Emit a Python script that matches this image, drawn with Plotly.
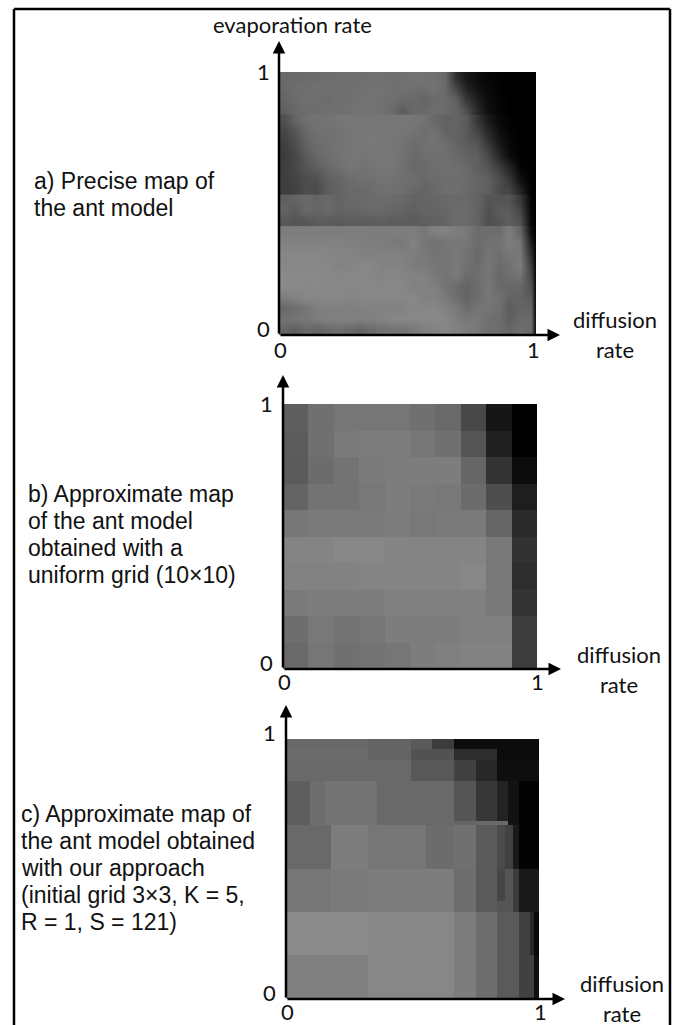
import plotly.graph_objects as go

W, H = 680, 1025

# Panel a: precise map, grey levels, top row first
grid_a = [
    [105,105,108,108,110,110,112,112,112,112,112,112,115,115,112,105,45,22,12,5,3,0,0,0],
    [105,110,110,112,112,112,110,112,115,115,112,112,112,110,115,105,70,35,18,8,3,0,0,0],
    [100,108,112,110,108,112,112,115,115,112,112,108,105,100,108,108,95,55,30,12,4,0,0,0],
    [95,105,108,110,112,112,112,115,115,112,108,92,105,105,110,108,100,80,40,15,5,0,0,0],
    [80,100,112,115,115,118,118,118,118,118,118,118,118,115,105,98,100,90,55,25,8,2,0,0],
    [70,85,105,112,112,115,118,118,120,118,118,118,115,110,115,100,98,90,70,40,15,4,0,0],
    [62,78,100,108,112,115,118,118,120,118,118,115,108,112,115,110,100,92,85,55,25,8,0,0],
    [60,72,90,105,110,115,118,118,118,120,118,115,105,110,112,112,105,100,95,72,40,12,0,0],
    [62,72,85,95,105,112,118,115,115,118,118,112,105,105,112,112,110,105,95,85,60,35,4,0],
    [62,68,78,80,95,100,108,112,112,115,115,112,110,105,108,110,110,108,102,95,78,55,15,0],
    [62,65,78,75,92,100,105,105,108,112,112,110,105,100,105,110,110,105,100,95,75,70,35,0],
    [95,100,105,100,105,100,105,105,108,108,108,105,100,100,102,105,105,105,100,85,85,85,55,2],
    [100,92,105,100,105,100,102,102,105,105,102,100,95,100,100,102,108,108,100,80,92,90,70,4],
    [88,85,85,92,92,90,92,92,92,95,92,95,92,95,98,100,108,105,100,78,85,95,82,8],
    [125,125,125,125,125,125,125,125,125,125,125,125,125,118,130,130,125,122,108,110,108,125,100,12],
    [130,130,130,130,130,130,128,128,125,125,122,120,130,118,112,118,120,118,108,114,115,125,118,30],
    [135,135,135,135,133,132,132,130,128,130,130,128,125,122,115,116,122,115,105,116,110,120,118,45],
    [135,135,135,135,135,130,132,135,135,130,130,130,125,122,118,116,122,112,108,118,108,112,125,60],
    [138,138,138,138,135,135,135,135,135,132,135,132,130,130,122,115,122,108,110,118,104,112,115,70],
    [138,138,135,138,135,135,135,135,135,135,135,135,130,130,128,116,108,100,108,118,106,104,104,80],
    [125,130,135,135,135,135,132,135,135,135,135,135,135,130,130,122,110,100,110,120,112,100,100,90],
    [105,110,118,125,128,128,128,128,130,130,130,130,135,135,135,130,122,110,116,116,112,92,102,100],
    [115,118,118,125,128,128,130,128,128,130,135,135,135,135,135,135,125,120,120,112,108,96,106,105],
    [100,95,105,100,105,110,105,100,108,112,115,115,120,128,130,135,130,125,120,110,110,102,110,105],
]
# Grey level along the right border of panel a
right_edge_a = 0
# Horizontal bands of panel a: top value, bottom value, number of rows
bands_a = [(1.0, 0.834, 4), (0.838, 0.530, 7), (0.534, 0.410, 3), (0.414, 0.0, 10)]

# Panel b: uniform 10x10 grid, grey levels, top row first
grid_b = [
    [95,112,118,118,118,112,105,72,22,0],
    [92,112,122,125,125,118,112,85,32,0],
    [90,108,115,122,125,125,125,102,52,12],
    [100,115,115,120,125,122,120,108,78,30],
    [118,122,122,122,125,120,122,122,102,42],
    [132,132,135,135,132,132,132,132,120,50],
    [130,130,130,132,132,132,132,135,120,45],
    [122,125,125,125,128,128,128,128,120,52],
    [110,120,115,118,125,125,125,128,128,60],
    [105,118,112,115,118,125,128,130,130,60],
]

# Panel c: adaptive grid cell edges and grey levels, top row first
edges_x_c = [0,.096,.154,.178,.325,.361,.495,.555,.579,.649,.665,.752,.835,.867,.876,.896,.92,.963,.982,1]
edges_y_c = [1,.963,.92,.837,.683,.67,.5,.377,.334,.168,0]
grid_c = [
    [105,105,105,105,100,100,90,90,60,60,12,12,12,12,12,12,12,12,12],
    [108,108,108,108,100,100,82,82,82,82,45,45,12,12,12,12,12,12,12],
    [105,105,105,105,105,105,88,88,88,88,65,40,14,14,14,14,14,14,14],
    [95,110,115,115,115,105,105,105,105,105,85,55,35,35,18,18,3,3,3],
    [95,110,115,115,115,105,105,105,105,105,100,105,105,105,18,18,3,3,3],
    [105,105,105,125,118,118,118,108,108,108,112,90,75,65,65,25,3,3,3],
    [118,118,118,122,125,125,125,125,125,125,110,90,70,85,85,60,25,25,25],
    [118,118,118,122,125,125,125,125,125,125,110,90,85,85,85,60,25,25,25],
    [140,140,140,140,135,135,135,135,135,135,125,110,90,90,90,90,65,40,10],
    [128,128,128,128,135,135,135,135,135,135,125,110,90,90,90,90,65,65,15],
]

tick_labels = ["0", "1"]
x_title = ["diffusion", "rate"]
y_title = "evaporation rate"
panel_texts = [
    ["a) Precise map of", "the ant model"],
    ["b) Approximate map", "of the ant model", "obtained with a", "uniform grid (10×10)"],
    ["c) Approximate map of", "the ant model obtained", "with our approach", "(initial grid 3×3, K = 5,", "R = 1, S = 121)"],
]

# heat area of each panel in page pixels: left, right, top, bottom
boxes = [(279, 536, 72, 335), (283, 537, 404, 669), (286, 539, 739, 999)]


def px(x):
    return x / W


def py(y):
    return 1 - y / H


def centres(n):
    return [(i + 0.5) / n for i in range(n)]


GREY = [[0, "rgb(0,0,0)"], [1, "rgb(255,255,255)"]]
LABEL_FONT = dict(family="Lato", size=22, color="#111")
TEXT_FONT = dict(family="Liberation Sans", size=23, color="#111")

fig = go.Figure()
row = 0
for hi, lo, n in bands_a:
    rows = grid_a[row:row + n]
    row += n
    fig.add_trace(go.Heatmap(
        z=[r + [right_edge_a] for r in rows[::-1]],
        x=centres(len(rows[0])) + [1.0],
        y=[lo + (hi - lo) * c for c in centres(n)],
        colorscale=GREY, zmin=0, zmax=255, zsmooth="best", showscale=False,
        xaxis="x", yaxis="y"))
fig.add_trace(go.Heatmap(
    z=grid_b[::-1], x=centres(len(grid_b[0])), y=centres(len(grid_b)),
    colorscale=GREY, zmin=0, zmax=255, showscale=False,
    xaxis="x2", yaxis="y2"))
fig.add_trace(go.Heatmap(
    z=grid_c[::-1], x=edges_x_c, y=edges_y_c[::-1],
    colorscale=GREY, zmin=0, zmax=255, showscale=False,
    xaxis="x3", yaxis="y3"))

layout = dict(
    width=W, height=H, margin=dict(l=0, r=0, t=0, b=0, autoexpand=False),
    paper_bgcolor="white", plot_bgcolor="white", showlegend=False,
)
annotations = []
frame_line = dict(color="black", width=2.5)
shapes = [
    dict(type="line", xref="paper", yref="paper", x0=px(14), x1=px(14), y0=py(1025), y1=py(9), line=frame_line),
    dict(type="line", xref="paper", yref="paper", x0=px(14), x1=px(670), y0=py(9), y1=py(9), line=frame_line),
    dict(type="line", xref="paper", yref="paper", x0=px(670), x1=px(670), y0=py(9), y1=py(1025), line=frame_line),
]

arrow_tips = [(560, 41), (561, 375), (565, 705)]
x_title_pos = [(615, 319), (619, 654), (622, 983)]
y_label_x = [263, 266, 269]
text_pos = [(32, 181), (26, 494), (19, 814)]
x_label_dy = [-14, -12, -12]
x_label_dx1 = [-3, 0, 1]
y_top_dy = [1, 1, 7]
LINE_STEP = 27


def label(text, font=LABEL_FONT, xanchor="center", **kw):
    annotations.append(dict(text=text, showarrow=False, font=font, xanchor=xanchor, yanchor="middle", **kw))


for i, (left, right, top, bottom) in enumerate(boxes):
    suffix = "" if i == 0 else str(i + 1)
    axis_common = dict(range=[0, 1], showgrid=False, zeroline=False, showticklabels=False,
                       ticks="", showline=False)
    layout["xaxis" + suffix] = dict(axis_common, domain=[px(left), px(right)], anchor="y" + suffix)
    layout["yaxis" + suffix] = dict(axis_common, domain=[py(bottom), py(top)], anchor="x" + suffix)

    tip_x, tip_y = arrow_tips[i]
    annotations.append(dict(xref="paper", yref="paper", x=px(left), y=py(tip_y), text="", showarrow=True,
                            axref="pixel", ayref="pixel", ax=0, ay=bottom - tip_y, arrowhead=2,
                            arrowsize=1, arrowwidth=2.5, arrowcolor="black", standoff=0))
    annotations.append(dict(xref="paper", yref="paper", x=px(tip_x), y=py(bottom), text="", showarrow=True,
                            axref="pixel", ayref="pixel", ax=left - tip_x, ay=0, arrowhead=2,
                            arrowsize=1, arrowwidth=2.5, arrowcolor="black", standoff=0))
    xr, yr = "x" + suffix, "y" + suffix
    label(tick_labels[0], xref=xr, yref=yr, x=0, y=0, xshift=1, yshift=x_label_dy[i])
    label(tick_labels[1], xref=xr, yref=yr, x=1, y=0, xshift=x_label_dx1[i], yshift=x_label_dy[i])
    label(tick_labels[0], xref="paper", yref=yr, x=px(y_label_x[i]), y=0, yshift=7)
    label(tick_labels[1], xref="paper", yref=yr, x=px(y_label_x[i]), y=1, yshift=y_top_dy[i])
    tx, ty = x_title_pos[i]
    for j, line in enumerate(x_title):
        label(line, xref="paper", yref="paper", x=px(tx), y=py(ty + 30 * j))
    cx, cy = text_pos[i]
    for j, line in enumerate(panel_texts[i]):
        label(line, font=TEXT_FONT, xanchor="left", xref="paper", yref="paper", x=px(cx), y=py(cy + LINE_STEP * j))

label(y_title, xref="paper", yref="paper", x=px(292), y=py(24))

fig.update_layout(annotations=annotations, shapes=shapes, **layout)
fig.write_html("out.html", config=dict(displayModeBar=False),
               post_script="document.body.style.margin='0';")
